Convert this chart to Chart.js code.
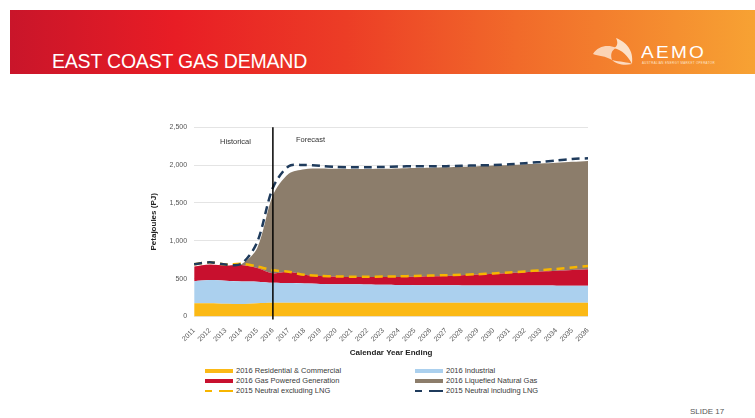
<!DOCTYPE html>
<html>
<head>
<meta charset="utf-8">
<script src="https://cdn.jsdelivr.net/npm/chart.js@4.4.1/dist/chart.umd.min.js"></script>
<style>
  html, body { margin: 0; padding: 0; background: #fff; }
  #slide { position: relative; width: 755px; height: 418px; overflow: hidden; font-family: "Liberation Sans", Arial, sans-serif; }
  #band { position: absolute; left: 10px; top: 10px; width: 745px; height: 64px;
    background: linear-gradient(90deg, #c9152a 0%, #e81d25 22%, #ec3d26 45%, #f16a2a 68%, #f7a233 100%); }
  #title { position: absolute; left: 52px; top: 50px; color: #fff; font-size: 19.5px; letter-spacing: -0.2px; }
  #logo { position: absolute; left: 590px; top: 36px; width: 130px; height: 36px; }
  #logo .mark { position: absolute; left: 0; top: 0; }
  #logo .name { position: absolute; left: 51px; top: 7px; color: #fff; font-size: 17px; letter-spacing: 2px;
    transform: scaleX(1.12); transform-origin: left top; }
  #logo .tag { position: absolute; left: 52px; top: 25px; color: #fde3c8; font-size: 3px; letter-spacing: 0.3px; white-space: nowrap; }
  #chartBox { position: absolute; left: 145px; top: 116px; width: 455px; height: 246px; }
  #legend { position: absolute; left: 205px; top: 366px; width: 400px; font-size: 7.5px; color: #3a3a3a; }
  .lg { position: absolute; height: 10px; line-height: 10px; white-space: nowrap; }
  .lg .sw { position: absolute; left: 0; top: 3px; width: 28px; height: 4px; }
  .lg .tx { position: absolute; left: 31px; top: 0; }
  #slideNo { position: absolute; left: 690px; top: 407px; font-size: 8px; color: #555; }
</style>
</head>
<body>
<div id="slide">
  <div id="band"></div>
  <div id="title">EAST COAST GAS DEMAND</div>
  <div id="logo">
    <svg class="mark" width="48" height="30" viewBox="0 0 48 30">
      <path d="M3 18 C8 10 18 8 26 12 C22 14 20 18 22 24 C16 20 8 20 3 18 Z" fill="#fbe2cc" opacity="0.85"/>
      <path d="M26 2 C36 6 44 14 42 28 C38 20 32 14 24 12 C28 10 28 6 26 2 Z" fill="#fdebd9" opacity="0.9"/>
      <path d="M22 24 C30 26 38 26 42 28 C34 30 26 28 22 24 Z" fill="#fff" opacity="0.7"/>
    </svg>
    <div class="name">AEMO</div>
    <div class="tag">AUSTRALIAN ENERGY MARKET OPERATOR</div>
  </div>
  <div id="chartBox"><canvas id="chart"></canvas></div>
  <div id="legend"></div>
  <div id="slideNo">SLIDE 17</div>
</div>
<script>
  const years = ['2011','2012','2013','2014','2015','2016','2017','2018','2019','2020','2021','2022','2023',
    '2024','2025','2026','2027','2028','2029','2030','2031','2032','2033','2034','2035','2036'];

  const residential = [175,175,168,165,175,180,180,180,180,180,180,180,180,180,180,180,180,180,180,180,180,180,180,180,180,180];
  const industrial = [290,305,304,297,285,265,262,256,250,247,245,242,238,235,233,232,231,230,230,229,229,228,228,227,226,225];
  const gasPower = [195,205,200,218,180,125,148,114,105,98,95,98,102,107,112,118,124,135,145,156,166,177,187,198,209,220];
  const lng = [0,0,0,10,260,1030,1295,1395,1420,1425,1428,1428,1430,1433,1435,1435,1435,1433,1430,1428,1425,1425,1425,1425,1427,1430];
  const neutralExLng = [690,715,685,695,660,610,590,550,535,528,525,525,527,530,535,540,545,550,558,568,580,595,610,628,648,665];
  const neutralInLng = [690,715,685,695,980,1700,1985,2000,1990,1975,1970,1970,1975,1980,1985,1985,1985,1990,1995,2000,2010,2025,2040,2060,2080,2090];

  const yTicks = [0, 500, 1000, 1500, 2000, 2500];
  const forecastStart = '2016';

  const C = {
    res: '#fbb916',
    ind: '#abd0ee',
    gpg: '#c8102e',
    lng: '#8c7d6b',
    exl: '#f7b500',
    inl: '#1f3b5c'
  };

  function area(label, data, color, fill) {
    return { label, data, backgroundColor: color, borderColor: color, borderWidth: 0, fill,
      pointRadius: 0, tension: 0.3, stack: 'demand', order: 2, legendColor: color };
  }
  function dashed(label, data, color, stack, order) {
    return { label, data, borderColor: color, backgroundColor: color, borderWidth: 2.5, borderDash: [8, 5],
      fill: false, pointRadius: 0, tension: 0.3, stack, order, dashedLegend: true };
  }

  const datasets = [
    area('2016 Residential & Commercial', residential, C.res, 'origin'),
    area('2016 Industrial', industrial, C.ind, '-1'),
    area('2016 Gas Powered Generation', gasPower, C.gpg, '-1'),
    area('2016 Liquefied Natural Gas', lng, C.lng, '-1'),
    dashed('2015 Neutral excluding LNG', neutralExLng, C.exl, 'ex', 1),
    dashed('2015 Neutral including LNG', neutralInLng, C.inl, 'in', 0)
  ];

  const periodMarker = {
    id: 'periodMarker',
    afterDatasetsDraw(chart) {
      const { ctx, scales } = chart;
      const x = scales.x.getPixelForValue(years.indexOf(forecastStart));
      const top = scales.y.getPixelForValue(2500);
      const bottom = scales.y.getPixelForValue(0) + 3;
      ctx.save();
      ctx.strokeStyle = '#000';
      ctx.lineWidth = 1.5;
      ctx.beginPath();
      ctx.moveTo(x, top);
      ctx.lineTo(x, bottom);
      ctx.stroke();
      ctx.fillStyle = '#333';
      ctx.font = '7.5px "Liberation Sans", Arial, sans-serif';
      ctx.textBaseline = 'middle';
      ctx.textAlign = 'right';
      ctx.fillText('Historical', x - 22, top + 15);
      ctx.textAlign = 'left';
      ctx.fillText('Forecast', x + 23, top + 13);
      ctx.restore();
    }
  };

  new Chart(document.getElementById('chart'), {
    type: 'line',
    data: { labels: years, datasets },
    plugins: [periodMarker],
    options: {
      responsive: true,
      maintainAspectRatio: false,
      animation: false,
      layout: { padding: { top: 3, right: 12, left: 0, bottom: 0 } },
      plugins: { legend: { display: false }, tooltip: { enabled: false } },
      scales: {
        x: {
          offset: false,
          grid: { display: false },
          border: { display: false },
          ticks: { color: '#555', font: { size: 7, family: '"Liberation Sans", Arial, sans-serif' },
            maxRotation: 45, minRotation: 45, autoSkip: false, padding: 2 },
          title: { display: true, text: 'Calendar Year Ending', color: '#222',
            font: { size: 8, weight: 'bold', family: '"Liberation Sans", Arial, sans-serif' }, padding: { top: 3 } }
        },
        y: {
          stacked: true,
          min: 0,
          max: 2500,
          afterBuildTicks(axis) { axis.ticks = yTicks.map(v => ({ value: v })); },
          grid: { color: '#e4e4e4', drawTicks: false },
          border: { display: false },
          ticks: { color: '#555', padding: 7, font: { size: 7, family: '"Liberation Sans", Arial, sans-serif' },
            callback: v => v.toLocaleString('en-US') },
          title: { display: true, text: 'Petajoules (PJ)', color: '#222',
            font: { size: 8, weight: 'bold', family: '"Liberation Sans", Arial, sans-serif' }, padding: { bottom: 4 } }
        }
      }
    }
  });

  // legend: two columns, three rows
  const legendPos = [[0, 0], [0, 10], [0, 20], [210, 0], [210, 10], [210, 20]];
  const legendOrder = [0, 2, 4, 1, 3, 5];
  const $legend = document.getElementById('legend');
  legendOrder.forEach(function (idx, i) {
    const ds = datasets[idx];
    const el = document.createElement('div');
    el.className = 'lg';
    el.style.left = legendPos[i][0] + 'px';
    el.style.top = legendPos[i][1] + 'px';
    let sw;
    if (ds.dashedLegend) {
      sw = `<span class="sw" style="height:2px;top:4px;background:linear-gradient(90deg, ${ds.borderColor} 0 7px, transparent 7px 14px, ${ds.borderColor} 14px 28px);"></span>`;
    } else {
      sw = `<span class="sw" style="background:${ds.legendColor};"></span>`;
    }
    el.innerHTML = sw + `<span class="tx">${ds.label}</span>`;
    $legend.appendChild(el);
  });
</script>
</body>
</html>
